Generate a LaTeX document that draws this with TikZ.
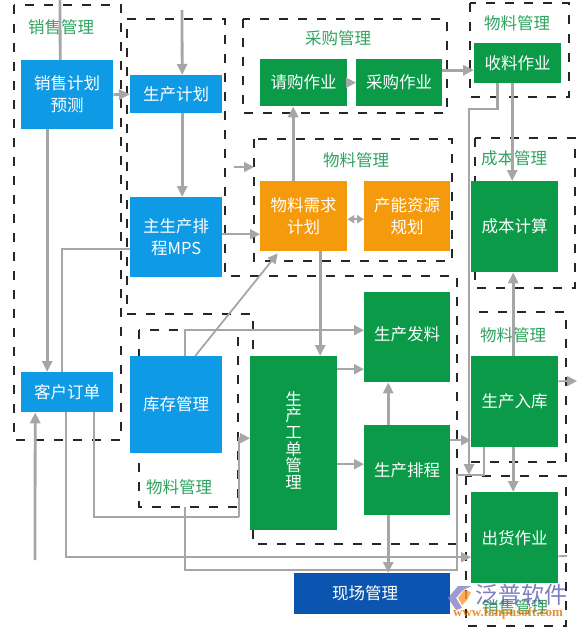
\documentclass[tikz,border=0pt]{standalone}
\usepackage{fontspec}
\setmainfont{Noto Sans CJK SC}
\newfontfamily\wmfont{Liberation Serif}
\usetikzlibrary{arrows.meta, calc}
\definecolor{boxblue}{HTML}{0F9AE6}
\definecolor{boxgreen}{HTML}{0A9A48}
\definecolor{boxorange}{HTML}{F59A0C}
\definecolor{boxnavy}{HTML}{0B55B0}
\definecolor{labgreen}{HTML}{2FA35F}
\definecolor{linegray}{HTML}{A6A6A6}
\tikzset{
	box/.style={anchor=north west, inner sep=0pt, align=center, text=white,
		font=\fontsize{16.5}{22}\selectfont},
	bluebox/.style={box, fill=boxblue},
	greenbox/.style={box, fill=boxgreen},
	orangebox/.style={box, fill=boxorange},
	navybox/.style={box, fill=boxnavy},
	grouplab/.style={text=labgreen, inner sep=0pt, font=\fontsize{16.5}{20}\selectfont},
	group/.style={draw=black!85, line width=2.8pt, dash pattern=on 9pt off 10pt},
	thickl/.style={draw=linegray, line width=2.8pt},
	thinl/.style={draw=linegray, line width=1.8pt},
	arr/.style={thickl, -{Triangle[length=11pt,width=10pt]}},
	arrthin/.style={thinl, -{Triangle[length=10pt,width=10pt]}}
}
\begin{document}
\begin{tikzpicture}[x=1pt,y=-1pt]
	\def\bx#1#2#3#4#5#6#7{\node[#2,minimum width=#5pt,minimum height=#6pt] (#1) at (#3,#4) {#7};}
	\useasboundingbox (0,0) rectangle (577,629);

	\draw[group] (14,5) rectangle (121,440);
	\draw[group] (127,19) -- (225,19) -- (225,276) -- (457,276) -- (457,544) -- (253,544) -- (253,314) -- (127,314) -- cycle;
	\draw[group] (243,19) rectangle (447,113);
	\draw[group] (254,139) rectangle (452,261);
	\draw[group] (470,3) rectangle (569,97);
	\draw[group] (475,138) rectangle (575,288);
	\draw[group] (469,312) rectangle (566,462);
	\draw[group] (466,476) rectangle (566,626);
	\draw[group] (139,330) rectangle (238,507);

	\bx{xsjh}{bluebox}{21}{60}{92}{69}{销售计划\\预测}
	\bx{scjh}{bluebox}{130}{75}{92}{38}{生产计划}
	\bx{zsc}{bluebox}{130}{197}{92}{80}{主生产排\\程MPS}
	\bx{khdd}{bluebox}{21}{372}{92}{40}{客户订单}
	\bx{kcgl}{bluebox}{130}{356}{92}{97}{库存管理}
	\bx{qgzy}{greenbox}{260}{59}{87}{47}{请购作业}
	\bx{cgzy}{greenbox}{356}{59}{86}{47}{采购作业}
	\bx{slzy}{greenbox}{474}{43}{87}{40}{收料作业}
	\bx{wlxq}{orangebox}{260}{181}{87}{70}{物料需求\\计划}
	\bx{cnzy}{orangebox}{364}{181}{86}{70}{产能资源\\规划}
	\bx{cbjs}{greenbox}{471}{181}{87}{91}{成本计算}
	\bx{scfl}{greenbox, text depth=8pt}{364}{292}{86}{90}{生产发料}
	\bx{scrk}{greenbox}{471}{356}{87}{91}{生产入库}
	\bx{scgd}{greenbox, font=\fontsize{16.5}{16.7}\selectfont}{250}{356}{87}{174}{生\\产\\工\\单\\管\\理\\[-10pt]\mbox{}}
	\bx{scpc}{greenbox}{364}{425}{86}{90}{生产排程}
	\bx{chzy}{greenbox}{471}{492}{87}{91}{出货作业}
	\bx{xcgl}{navybox}{294}{573}{156}{41}{现场管理\hspace*{14pt}}

	\node[grouplab] (labxs) at (61,27) {销售管理};
	\node[grouplab] (labcg) at (338,38) {采购管理};
	\node[grouplab] (labwlc) at (356,160) {物料管理};
	\node[grouplab] (labwlt) at (517,23) {物料管理};
	\node[grouplab] (labcb) at (514,158) {成本管理};
	\node[grouplab] (labwlr) at (513,335) {物料管理};
	\node[grouplab] (labwll) at (179,487) {物料管理};
	\node[grouplab] (labxsb) at (515,607) {销售管理};

	\coordinate (topxs) at (60,0);
	\coordinate (topsc) at (182,10);
	\coordinate (stuba) at (234,167);
	\coordinate (stubb) at (254,167);
	\coordinate (slbend) at (469,109);
	\coordinate (slend) at (469,475);
	\coordinate (rkbend) at (457,475);
	\coordinate (rkdown) at (457,570);
	\coordinate (rkleft) at (185,570);
	\coordinate (rkend) at (185,507);
	\coordinate (rkout) at (577,381);
	\coordinate (upstart) at (35,560);
	\coordinate (cfl) at (239,517);
	\coordinate (chout) at (567,556);

	\draw[thickl] (topxs) -- ([xshift=-7pt]xsjh.north);
	\draw[arr] (xsjh.east) -- (scjh.west);
	\draw[arr] (topsc) -- ([xshift=6pt]scjh.north);
	\draw[arr] ([xshift=6pt]scjh.south) -- ([xshift=6pt]zsc.north);
	\draw[arr] ([xshift=-20pt]xsjh.south) -- ([xshift=-20pt]khdd.north);
	\draw[thinl] ([yshift=-12pt]zsc.west) -| ([xshift=-5pt]khdd.north);
	\draw[arrthin] (stuba) -- (stubb);
	\draw[arrthin] ([yshift=3pt]zsc.east) -- ([yshift=-18pt]wlxq.west);
	\draw[arrthin] ([xshift=19pt]kcgl.north) -- ([xshift=-26pt,yshift=-2pt]wlxq.south);
	\draw[arr] ([xshift=-10.5pt]wlxq.north) -- ([xshift=-10.5pt]qgzy.south);
	\draw[arrthin] (qgzy.east) -- (cgzy.west);
	\draw[arr] ([yshift=12.5pt]cgzy.east) -- ([yshift=-7pt]slzy.west);
	\draw[thinl, {Triangle[length=7pt,width=8pt]}-{Triangle[length=7pt,width=8pt]}] ([yshift=-3pt]wlxq.east) -- ([yshift=-3pt]cnzy.west);
	\draw[arr] ([xshift=16.5pt]wlxq.south) -- ([xshift=26.5pt]scgd.north);
	\draw[arr] ([xshift=-5.5pt]slzy.south) -- ([xshift=-2.5pt]cbjs.north);
	\draw[arr] ([xshift=-20.5pt]slzy.south) |- (slbend) -- (slend);
	\draw[arr] ([xshift=-1.5pt]scrk.north) -- ([xshift=-1.5pt]cbjs.south);
	\draw[arrthin] ([yshift=20.5pt]scrk.east) -- (rkout);
	\draw[arr] ([xshift=-1.5pt]scrk.south) -- ([xshift=-1.5pt]chzy.north);
	\draw[thinl] ([xshift=-30.5pt]scrk.south) |- (rkbend) -- (rkdown) -- (rkleft) -- (rkend);
	\draw[arrthin] ([xshift=9pt]kcgl.north) |- ([yshift=7pt]scfl.west);
	\draw[arrthin] ([yshift=74pt]scgd.east) -- ([yshift=-32pt]scfl.west);
	\draw[arrthin] ([yshift=-21pt]scgd.east) -- ([yshift=6pt]scpc.west);
	\draw[arr] ([xshift=-19pt]scpc.north) -- ([xshift=-19pt]scfl.south);
	\draw[arr] ([xshift=-19pt]scpc.south) -- ([xshift=16pt]xcgl.north);
	\draw[arrthin] ([yshift=30pt]scpc.east) -- ([yshift=-38.5pt]scrk.west);
	\draw[thinl] ([xshift=27pt]khdd.south) |- (cfl);
	\draw[arrthin] (cfl) |- ([yshift=5pt]scgd.west);
	\draw[arrthin] ([xshift=-1pt]khdd.south) |- ([yshift=-19.5pt]chzy.west);
	\draw[arr] (upstart) -- ([xshift=-32pt]khdd.south);
	\draw[thinl] ([yshift=-18.5pt]chzy.east) -- (chout);

	\fill[gray!60!blue!70, opacity=.8] (448,598) -- (458,586) -- (472,586) -- (463,590) -- (456,598) -- (462,608) -- (456,610) -- cycle;
	\fill[orange!80, opacity=.8] (458,598) -- (464,590) -- (471,592) -- (467,600) -- (462,605) -- cycle;
	\node[text=blue!35!gray, opacity=.75, inner sep=0pt, font=\fontsize{23}{26}\selectfont] (wmname) at (521,595) {泛普软件};
	\node[text=orange!90!black, opacity=.8, inner sep=0pt, font=\wmfont\bfseries\fontsize{13}{14}\selectfont] (wmurl) at (508,613) {www.fanpusoft.com};
\end{tikzpicture}
\end{document}
